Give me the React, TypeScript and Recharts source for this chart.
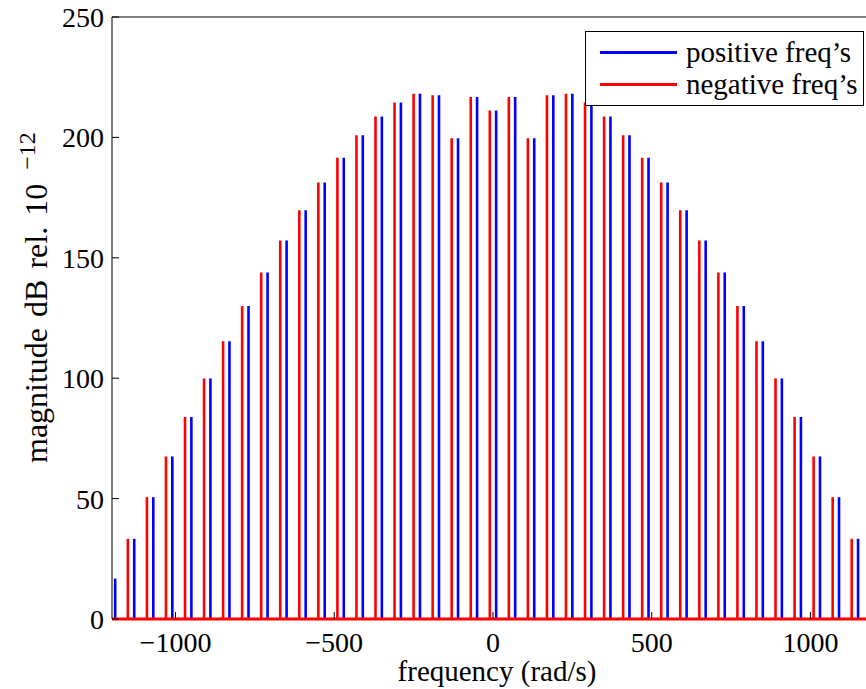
import React from 'react';
import { ComposedChart, XAxis, YAxis, ReferenceLine, Legend, Label, Scatter } from 'recharts';

const FONT = '"Liberation Serif", "Times New Roman", Times, serif';
const BLUE = '#0000ff';
const RED = '#ff0000';

// positive frequencies (rad/s) and their magnitudes
const posFreqs = [
    -1190, -1130, -1070, -1010, -950, -890, -830, -770, -710, -650,
    -590, -530, -470, -410, -350, -290, -230, -170, -110, -50,
    10, 70, 130, 190, 250, 310, 370, 430, 490, 550,
    610, 670, 730, 790, 850, 910, 970, 1030, 1090, 1150,
];
const posMag = [
    16.8, 33.3, 50.6, 67.5, 83.9, 99.9, 115.3, 130.0, 143.9, 157.2,
    169.7, 181.3, 191.6, 200.9, 208.7, 214.5, 218.1, 217.5, 199.6, 216.8,
    211.2, 216.8, 199.6, 217.5, 218.1, 214.5, 208.7, 200.9, 191.6, 181.3,
    169.7, 157.2, 143.9, 130.0, 115.3, 99.9, 83.9, 67.5, 50.6, 33.3,
];

// negative frequencies, plotted mirrored
const negFreqs = [
    -1150, -1090, -1030, -970, -910, -850, -790, -730, -670, -610,
    -550, -490, -430, -370, -310, -250, -190, -130, -70, -10,
    50, 110, 170, 230, 290, 350, 410, 470, 530, 590,
    650, 710, 770, 830, 890, 950, 1010, 1070, 1130,
];
const negMag = [
    33.3, 50.6, 67.5, 83.9, 99.9, 115.3, 130.0, 143.9, 157.2, 169.7,
    181.3, 191.6, 200.9, 208.7, 214.5, 218.1, 217.5, 199.6, 216.8, 211.2,
    216.8, 199.6, 217.5, 218.1, 214.5, 208.7, 200.9, 191.6, 181.3, 169.7,
    157.2, 143.9, 130.0, 115.3, 99.9, 83.9, 67.5, 50.6, 33.3,
];

const xTicks = [-1000, -500, 0, 500, 1000];
const yTicks = [0, 50, 100, 150, 200, 250];

const posData = posFreqs.map((f, i) => ({ f, mag: posMag[i] }));
const negData = negFreqs.map((f, i) => ({ f, mag: negMag[i] }));

const fmtTick = (v: number) => (v < 0 ? `\u2212${Math.abs(v)}` : `${v}`);

function LegendBox() {
    const row = (color: string, text: string, top: number) => (
        <div style={{ position: 'absolute', left: 0, top, height: 32, display: 'flex', alignItems: 'center' }}>
            <div style={{ width: 77, height: 3, marginLeft: 14, background: color }} />
            <span style={{ marginLeft: 9, lineHeight: '32px', whiteSpace: 'nowrap' }}>{text}</span>
        </div>
    );
    return (
        <div
            style={{
                position: 'relative',
                width: 277,
                height: 73,
                border: '1px solid #000',
                background: '#fff',
                fontFamily: FONT,
                fontSize: 29,
                color: '#000',
            }}
        >
            {row(BLUE, 'positive freq\u2019s', 4)}
            {row(RED, 'negative freq\u2019s', 36)}
        </div>
    );
}

const YLabel = () => (
    <text
        x={47}
        y={463}
        transform="rotate(-90, 47, 463)"
        fontFamily={FONT}
        fontSize={32}
        wordSpacing={3}
        fill="#000"
    >
        magnitude dB rel. 10
        <tspan dx={14} dy={-12} fontSize={24}>{'\u221212'}</tspan>
    </text>
);

const XLabel = () => (
    <text x={497} y={681} textAnchor="middle" fontFamily={FONT} fontSize={29} fill="#000">
        frequency (rad/s)
    </text>
);

// stems are drawn as reference segments; the scatter points only carry the data
const NoDot = () => <g />;

export default function App() {
    const tickStyle = { fill: '#000', fontSize: 28, fontFamily: FONT };
    return (
        <div style={{ position: 'absolute', left: 0, top: 0, width: 866, height: 689, background: '#fff' }}>
            <ComposedChart width={866} height={689} margin={{ top: 16, right: 0, bottom: 0, left: 0 }}>
                <XAxis
                    dataKey="f"
                    type="number"
                    domain={[-1200, 1175]}
                    allowDataOverflow
                    ticks={xTicks}
                    interval={0}
                    height={70}
                    tickSize={-7}
                    tickMargin={20}
                    tickFormatter={fmtTick}
                    tick={tickStyle}
                    axisLine={false}
                    tickLine={{ stroke: '#000' }}
                >
                    <Label content={XLabel} />
                </XAxis>
                <XAxis
                    xAxisId="top"
                    dataKey="f"
                    orientation="top"
                    type="number"
                    domain={[-1200, 1175]}
                    allowDataOverflow
                    ticks={xTicks}
                    interval={0}
                    height={1}
                    tickSize={-7}
                    tick={false}
                    axisLine={{ stroke: '#000' }}
                    tickLine={{ stroke: '#000' }}
                />
                <YAxis
                    dataKey="mag"
                    type="number"
                    domain={[0, 250]}
                    allowDataOverflow
                    ticks={yTicks}
                    interval={0}
                    width={112}
                    tickSize={-7}
                    tickMargin={15}
                    tick={tickStyle}
                    axisLine={{ stroke: '#000' }}
                    tickLine={{ stroke: '#000' }}
                >
                    <Label content={YLabel} />
                </YAxis>

                <Scatter name="positive freq's" data={posData} dataKey="mag" fill={BLUE} shape={NoDot} isAnimationActive={false} />
                <Scatter name="negative freq's" data={negData} dataKey="mag" fill={RED} shape={NoDot} isAnimationActive={false} />

                {posData.map((d, i) => (
                    <ReferenceLine
                        key={`pos-${i}`}
                        segment={[{ x: d.f, y: 0 }, { x: d.f, y: d.mag }]}
                        stroke={BLUE}
                        strokeWidth={2.6}
                    />
                ))}
                {negData.map((d, i) => (
                    <ReferenceLine
                        key={`neg-${i}`}
                        segment={[{ x: d.f, y: 0 }, { x: d.f, y: d.mag }]}
                        stroke={RED}
                        strokeWidth={2.6}
                    />
                ))}
                <ReferenceLine y={0} stroke={RED} strokeWidth={3} />

                <Legend
                    layout="horizontal"
                    verticalAlign="middle"
                    align="center"
                    content={() => <LegendBox />}
                    wrapperStyle={{ left: 585, top: 31, width: 279, height: 75 }}
                />
            </ComposedChart>
        </div>
    );
}
